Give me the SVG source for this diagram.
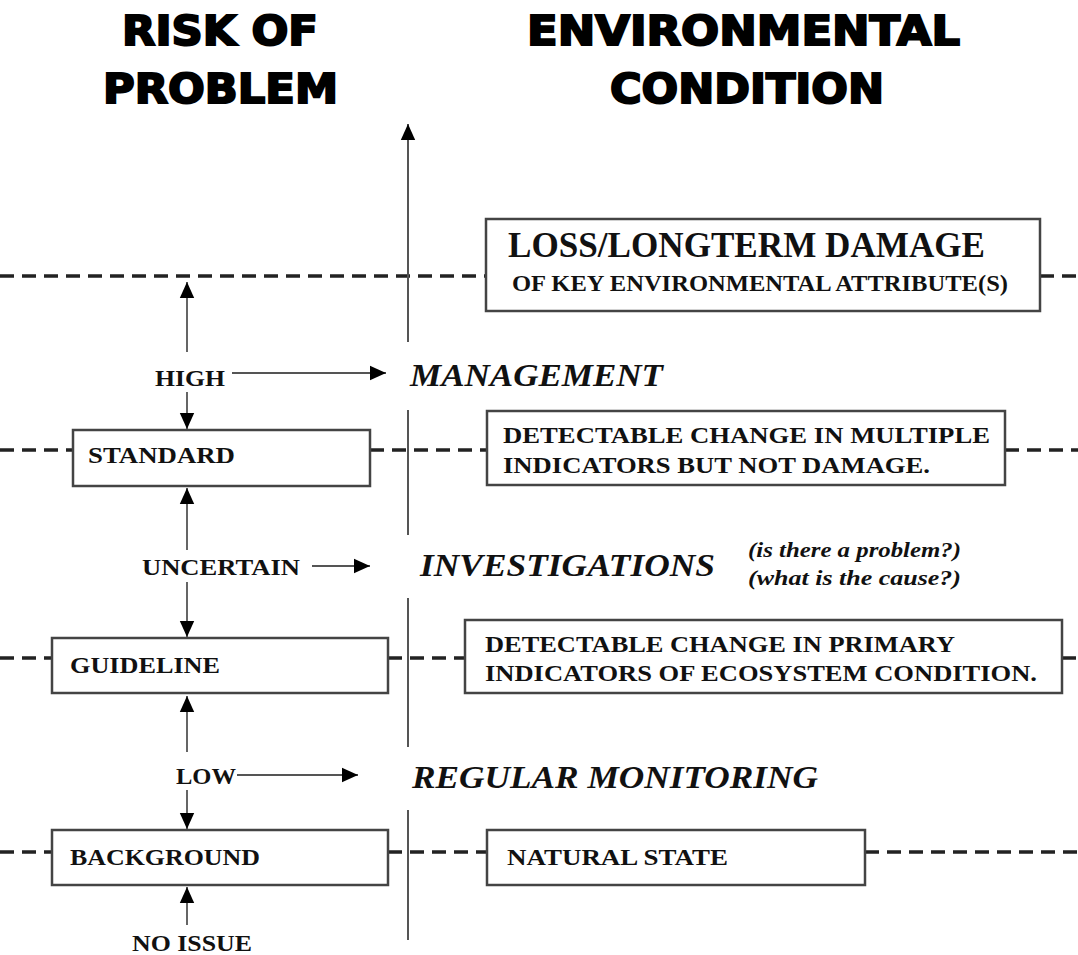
<svg xmlns="http://www.w3.org/2000/svg" width="1078" height="955" viewBox="0 0 1078 955">
<style>
.head{font-family:"DejaVu Sans","Liberation Sans",sans-serif;font-weight:bold;font-size:40px;fill:#000;stroke:#000;stroke-width:2px}
.lbl{font-family:"Liberation Serif","Times New Roman",serif;font-weight:bold;font-size:24px;fill:#111}
.big{font-family:"Liberation Serif","Times New Roman",serif;font-weight:bold;font-size:35px;fill:#111}
.act{font-family:"Liberation Serif","Times New Roman",serif;font-weight:bold;font-style:italic;font-size:32px;fill:#111}
.q{font-family:"Liberation Serif","Times New Roman",serif;font-weight:bold;font-style:italic;font-size:21px;fill:#111}
.box{fill:#fff;stroke:#444;stroke-width:2.5}
.dash{stroke:#222;stroke-width:3.5;stroke-dasharray:14 8;fill:none}
.ax{stroke:#555;stroke-width:2;fill:none}
.ar{stroke:#555;stroke-width:1.8;fill:none}
</style>
<defs>
<marker id="ahb" viewBox="0 0 10 10" refX="10" refY="5" markerWidth="16" markerHeight="16" markerUnits="userSpaceOnUse" orient="auto">
<path d="M0,0.5 L10,5 L0,9.5 z" fill="#000"/>
</marker>
</defs>
<rect width="1078" height="955" fill="#fff"/>

<g id="headings">
<text class="head" x="122" y="45" textLength="196" lengthAdjust="spacingAndGlyphs">RISK OF</text>
<text class="head" x="103" y="103" textLength="235" lengthAdjust="spacingAndGlyphs">PROBLEM</text>
<text class="head" x="527" y="45" textLength="433" lengthAdjust="spacingAndGlyphs">ENVIRONMENTAL</text>
<text class="head" x="610" y="103" textLength="274" lengthAdjust="spacingAndGlyphs">CONDITION</text>
</g>

<g id="connectors">
<line class="dash" x1="0" y1="276" x2="486" y2="276"/>
<line class="dash" x1="1040" y1="276" x2="1078" y2="276"/>
<line class="dash" x1="0" y1="450" x2="73" y2="450"/>
<line class="dash" x1="370" y1="450" x2="487" y2="450"/>
<line class="dash" x1="1005" y1="450" x2="1078" y2="450"/>
<line class="dash" x1="0" y1="658" x2="52" y2="658"/>
<line class="dash" x1="388" y1="658" x2="465" y2="658"/>
<line class="dash" x1="1062" y1="658" x2="1078" y2="658"/>
<line class="dash" x1="0" y1="852" x2="52" y2="852"/>
<line class="dash" x1="388" y1="852" x2="487" y2="852" stroke-dasharray="22 8 14 8"/>
<line class="dash" x1="865" y1="852" x2="1078" y2="852"/>
<line class="ax" x1="408" y1="342" x2="408" y2="124" marker-end="url(#ahb)"/>
<line class="ax" x1="408" y1="410" x2="408" y2="535"/>
<line class="ax" x1="408" y1="598" x2="408" y2="747"/>
<line class="ax" x1="408" y1="810" x2="408" y2="940"/>
<line class="ar" x1="187" y1="352" x2="187" y2="282" marker-end="url(#ahb)"/>
<line class="ar" x1="187" y1="392" x2="187" y2="429" marker-end="url(#ahb)"/>
<line class="ar" x1="232" y1="373" x2="386" y2="373" marker-end="url(#ahb)"/>
<line class="ar" x1="187" y1="550" x2="187" y2="488" marker-end="url(#ahb)"/>
<line class="ar" x1="187" y1="582" x2="187" y2="637" marker-end="url(#ahb)"/>
<line class="ar" x1="312" y1="566" x2="370" y2="566" marker-end="url(#ahb)"/>
<line class="ar" x1="187" y1="752" x2="187" y2="696" marker-end="url(#ahb)"/>
<line class="ar" x1="187" y1="790" x2="187" y2="829" marker-end="url(#ahb)"/>
<line class="ar" x1="237" y1="775" x2="358" y2="775" marker-end="url(#ahb)"/>
<line class="ar" x1="187" y1="925" x2="187" y2="887" marker-end="url(#ahb)"/>
</g>

<g id="loss">
<rect class="box" x="486" y="219" width="554" height="92"/>
<text class="big" x="508" y="257" textLength="477" lengthAdjust="spacingAndGlyphs">LOSS/LONGTERM DAMAGE</text>
<text class="lbl" x="512" y="291" textLength="496" lengthAdjust="spacingAndGlyphs">OF KEY ENVIRONMENTAL ATTRIBUTE(S)</text>
</g>

<g id="high">
<text class="lbl" x="155" y="386" textLength="70" lengthAdjust="spacingAndGlyphs">HIGH</text>
</g>
<g id="management">
<text class="act" x="410" y="386" textLength="253" lengthAdjust="spacingAndGlyphs">MANAGEMENT</text>
</g>

<g id="standard">
<rect class="box" x="73" y="430" width="297" height="56"/>
<text class="lbl" x="88" y="463" textLength="147" lengthAdjust="spacingAndGlyphs">STANDARD</text>
</g>
<g id="multiple">
<rect class="box" x="487" y="411" width="518" height="74"/>
<text class="lbl" x="503" y="443" textLength="487" lengthAdjust="spacingAndGlyphs">DETECTABLE CHANGE IN MULTIPLE</text>
<text class="lbl" x="503" y="473" textLength="427" lengthAdjust="spacingAndGlyphs">INDICATORS BUT NOT DAMAGE.</text>
</g>

<g id="uncertain">
<text class="lbl" x="142" y="575" textLength="158" lengthAdjust="spacingAndGlyphs">UNCERTAIN</text>
</g>
<g id="investigations">
<text class="act" x="420" y="576" textLength="295" lengthAdjust="spacingAndGlyphs">INVESTIGATIONS</text>
<text class="q" x="748" y="557" textLength="213" lengthAdjust="spacingAndGlyphs">(is there a problem?)</text>
<text class="q" x="748" y="585" textLength="213" lengthAdjust="spacingAndGlyphs">(what is the cause?)</text>
</g>

<g id="guideline">
<rect class="box" x="52" y="638" width="336" height="55"/>
<text class="lbl" x="70" y="673" textLength="150" lengthAdjust="spacingAndGlyphs">GUIDELINE</text>
</g>
<g id="primary">
<rect class="box" x="465" y="620" width="597" height="73"/>
<text class="lbl" x="485" y="652" textLength="470" lengthAdjust="spacingAndGlyphs">DETECTABLE CHANGE IN PRIMARY</text>
<text class="lbl" x="485" y="681" textLength="552" lengthAdjust="spacingAndGlyphs">INDICATORS OF ECOSYSTEM CONDITION.</text>
</g>

<g id="low">
<text class="lbl" x="176" y="784" textLength="60" lengthAdjust="spacingAndGlyphs">LOW</text>
</g>
<g id="monitoring">
<text class="act" x="412" y="788" textLength="406" lengthAdjust="spacingAndGlyphs">REGULAR MONITORING</text>
</g>

<g id="background">
<rect class="box" x="52" y="830" width="336" height="55"/>
<text class="lbl" x="70" y="865" textLength="190" lengthAdjust="spacingAndGlyphs">BACKGROUND</text>
</g>
<g id="natural">
<rect class="box" x="487" y="830" width="378" height="55"/>
<text class="lbl" x="507" y="865" textLength="221" lengthAdjust="spacingAndGlyphs">NATURAL STATE</text>
</g>

<g id="noissue">
<text class="lbl" x="132" y="951" textLength="120" lengthAdjust="spacingAndGlyphs">NO ISSUE</text>
</g>
</svg>
